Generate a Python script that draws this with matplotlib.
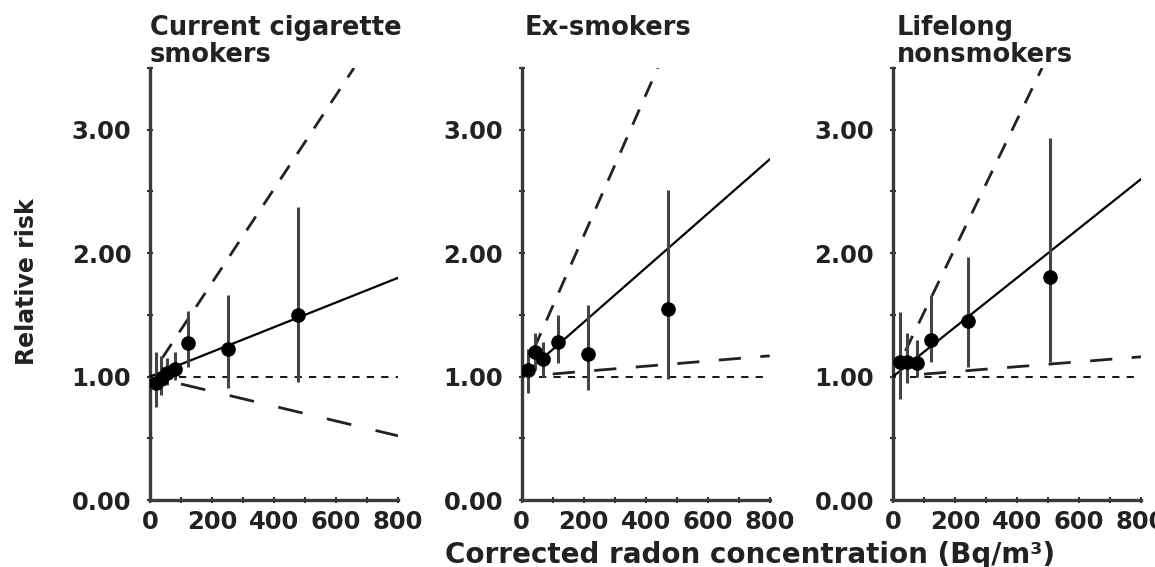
import matplotlib
matplotlib.use("Agg")
import matplotlib.pyplot as plt
import numpy as np

plt.rcParams['font.family'] = ['DejaVu Sans']
plt.rcParams['font.weight'] = 'bold'

titles = ["Current cigarette\nsmokers", "Ex-smokers", "Lifelong\nnonsmokers"]

# points: radon concentration, relative risk, CI low, CI high
cur_x = [20, 35, 55, 80, 123, 252, 478]
cur_y = [0.95, 0.98, 1.03, 1.06, 1.27, 1.22, 1.50]
cur_lo = [0.75, 0.85, 0.93, 0.97, 1.08, 0.91, 0.96]
cur_hi = [1.20, 1.17, 1.15, 1.20, 1.53, 1.66, 2.37]

ex_x = [20, 43, 69, 118, 215, 473]
ex_y = [1.05, 1.20, 1.14, 1.28, 1.18, 1.55]
ex_lo = [0.87, 1.05, 1.00, 1.11, 0.89, 0.98]
ex_hi = [1.22, 1.35, 1.28, 1.50, 1.58, 2.51]

non_x = [23, 44, 76, 123, 243, 508]
non_y = [1.12, 1.12, 1.11, 1.30, 1.45, 1.81]
non_lo = [0.82, 0.95, 1.00, 1.12, 1.08, 1.12]
non_hi = [1.52, 1.35, 1.30, 1.66, 1.97, 2.93]

# fitted linear excess relative risk per Bq/m3 and its CI
fit_slope = [0.0010, 0.0022, 0.0020]
upper_slope = [0.0038, 0.0057, 0.0052]
lower_slope = [-0.0006, 0.00021, 0.0002]

xticks = [0, 200, 400, 600, 800]
yticks = [0.0, 1.0, 2.0, 3.0]

series = [
    (cur_x, cur_y, cur_lo, cur_hi),
    (ex_x, ex_y, ex_lo, ex_hi),
    (non_x, non_y, non_lo, non_hi),
]

W, H = 1155, 567
fig = plt.figure(figsize=(W / 100, H / 100), dpi=100)

lefts = [150, 521.7, 893]
ax_w = 248
ax_top, ax_bot = 68, 500
ref_start = [95, 55, 55]

for i in range(3):
    ax = fig.add_axes([lefts[i] / W, 1 - ax_bot / H, ax_w / W, (ax_bot - ax_top) / H])
    xs, ys, lo, hi = series[i]
    ymax = 3.5

    # reference line at 1
    ax.plot([ref_start[i], 800], [1, 1], color='black', lw=1.3, dashes=(4, 4), zorder=1)

    # fitted line
    xf = np.array([0, 800])
    ax.plot(xf, 1 + fit_slope[i] * xf, color='black', lw=1.6, zorder=3)

    # upper CI
    x_end = min(800, (ymax - 1) / upper_slope[i])
    xu = np.array([40, x_end])
    ax.plot(xu, 1 + upper_slope[i] * xu, color='#222222', lw=2.0,
            dashes=(6, 5), zorder=2)

    # lower CI
    xl = np.array([100, 800])
    if i == 0:
        ax.plot(xl, 1 + lower_slope[i] * xl, color='#222222', lw=2.0,
                dashes=(9, 9), zorder=2)
    else:
        ax.plot(xl, 1 + lower_slope[i] * xl, color='#222222', lw=2.0,
                dashes=(8, 7), zorder=2)

    # error bars
    ax.vlines(xs, lo, hi, color='#444444', lw=2.2, zorder=4)
    ax.plot(xs, ys, 'o', color='black', ms=9.5, zorder=5)

    ax.set_xlim(0, 800)
    ax.set_ylim(0, 3.5)
    for s in ['top', 'right']:
        ax.spines[s].set_visible(False)
    for s in ['left', 'bottom']:
        ax.spines[s].set_color('#3a3a3a')
        ax.spines[s].set_linewidth(2.4)
    ax.spines['left'].set_bounds(0, 3.5)
    ax.set_xticks(xticks)
    ax.set_xticks(np.arange(0, 801, 100), minor=True)
    ax.set_yticks(yticks)
    ax.set_yticks(np.arange(0, 3.51, 0.5), minor=True)
    ax.set_xticklabels([str(t) for t in xticks])
    ax.set_yticklabels(["%.2f" % t for t in yticks])
    ax.tick_params(axis='both', which='both', direction='inout', length=5,
                   width=1.5, color='#333333', labelsize=17.5)
    ax.tick_params(axis='y', which='both', pad=11)
    ax.tick_params(axis='x', which='both', pad=5)
    for lab in ax.get_xticklabels() + ax.get_yticklabels():
        lab.set_fontweight('bold')
        lab.set_color('#222222')
    ax.patch.set_alpha(0)

# titles
title_x = [150, 525, 897]
for i in range(3):
    fig.text(title_x[i] / W, 1 - 35 / H, titles[i].split("\n")[0], ha='left',
             va='baseline', fontsize=18.5, fontweight='bold', color='#222222')
    if "\n" in titles[i]:
        fig.text(title_x[i] / W, 1 - 62 / H, titles[i].split("\n")[1], ha='left',
                 va='baseline', fontsize=18.5, fontweight='bold', color='#222222')

fig.text(750 / W, 1 - 563 / H, "Corrected radon concentration (Bq/m³)",
         ha='center', va='baseline', fontsize=20, fontweight='bold', color='#222222')
fig.text(27 / W, 1 - 282 / H, "Relative risk", ha='center', va='center',
         rotation=90, fontsize=17, fontweight='bold', color='#222222')

fig.savefig("out.png", dpi=100)
